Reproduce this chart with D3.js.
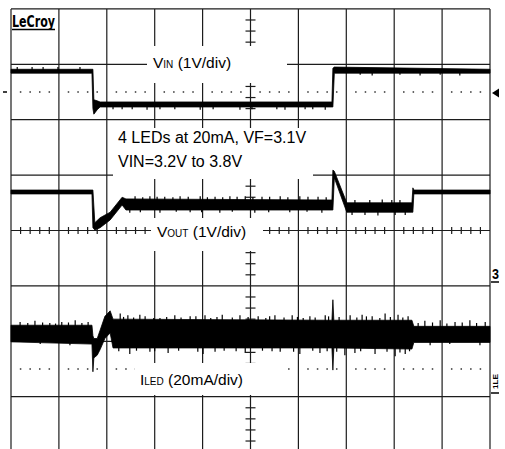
<!DOCTYPE html>
<html>
<head>
<meta charset="utf-8">
<script src="https://cdn.jsdelivr.net/npm/d3@7"></script>
<style>
  html, body { margin: 0; padding: 0; background: #fff; }
  svg { display: block; }
  text { font-family: "Liberation Sans", Arial, Helvetica, sans-serif; fill: #000; }
</style>
</head>
<body>
<svg id="scope" width="505" height="449"></svg>
<script>
// 示波器屏幕：横 10 格，纵 8 格（中心为 0），数据单位均为"格"
const xDivs = d3.range(0, 11);
const yDivs = d3.range(-4, 5);
const markerLevels = [2.5, -2.5];

// VIN 通道（1V/div）上下包络
const vinT   = [0, 1.69, 1.71, 1.73, 1.80, 1.86, 6.70, 6.72, 6.75, 10];
const vinTop = [2.91, 2.91, 2.91, 2.36, 2.34, 2.32, 2.32, 2.93, 2.95, 2.91];
const vinBot = [2.84, 2.84, 2.20, 2.10, 2.18, 2.23, 2.23, 2.23, 2.84, 2.84];
// VIN 噪声尖峰
const vinSpikeT   = [0.13, 0.44, 0.67, 0.98, 1.44, 2.13, 2.32, 2.53, 2.84, 3.11, 3.42, 3.95, 4.22, 4.78, 5.03, 5.55, 5.72, 6.14, 6.30, 6.56, 7.29, 7.54, 8.12, 8.54, 8.96, 9.37];
const vinSpikeTip = [2.95, 2.95, 2.95, 2.95, 2.95, 2.19, 2.19, 2.19, 2.18, 2.19, 2.19, 2.18, 2.19, 2.18, 2.19, 2.19, 2.18, 2.19, 2.19, 2.18, 2.81, 2.80, 2.81, 2.80, 2.81, 2.80];

// VOUT 通道（1V/div）
const voutT   = [0, 1.69, 1.71, 1.75, 1.86, 2.07, 2.32, 2.40, 6.70, 6.72, 6.75, 7.01, 8.37, 8.39, 8.41, 10];
const voutTop = [0.73, 0.73, 0.73, 0.14, 0.23, 0.33, 0.60, 0.57, 0.55, 1.09, 1.07, 0.50, 0.50, 0.77, 0.73, 0.73];
const voutBot = [0.66, 0.66, 0.05, 0.01, 0.05, 0.19, 0.46, 0.37, 0.37, 0.37, 0.95, 0.33, 0.33, 0.33, 0.66, 0.66];
const voutSpikeT   = [2.59, 2.90, 3.21, 3.53, 3.95, 4.26, 4.57, 4.89, 5.24, 5.62, 6.03, 6.41, 2.48, 3.11, 3.74, 4.36, 5.09, 5.82, 6.49, 7.18, 7.49, 7.75, 7.95, 8.12, 7.12, 7.39, 7.66, 8.02, 8.23,
                      2.75, 3.05, 3.38, 3.70, 4.10, 4.42, 4.72, 5.05, 5.40, 5.78, 6.20, 6.58, 2.70, 3.45, 3.98, 4.62, 5.38, 6.18];
const voutSpikeTip = [0.62, 0.62, 0.61, 0.62, 0.62, 0.61, 0.62, 0.62, 0.61, 0.62, 0.62, 0.61, 0.32, 0.32, 0.33, 0.32, 0.32, 0.33, 0.32, 0.55, 0.55, 0.56, 0.55, 0.55, 0.28, 0.28, 0.27, 0.28, 0.28,
                      0.60, 0.61, 0.60, 0.61, 0.60, 0.60, 0.61, 0.60, 0.61, 0.60, 0.61, 0.60, 0.33, 0.34, 0.33, 0.34, 0.33, 0.34];

// ILED 通道（20mA/div）
const iledT   = [0, 1.69, 1.71, 1.73, 1.80, 1.86, 1.96, 2.07, 2.13, 6.70, 6.72, 6.74, 8.37, 8.41, 10];
const iledTop = [-1.71, -1.71, -1.90, -1.95, -1.95, -1.80, -1.55, -1.45, -1.60, -1.62, -1.25, -1.62, -1.62, -1.73, -1.73];
const iledBot = [-2.01, -2.05, -2.55, -2.30, -2.25, -2.15, -1.95, -1.85, -2.12, -2.12, -2.52, -2.12, -2.14, -2.02, -2.02];
const iledSpikeT   = [0.19, 0.50, 0.81, 1.06, 1.34, 1.61, 2.28, 2.44, 2.69, 3.11, 3.42, 3.74, 4.05, 4.41, 4.78, 5.16, 5.51, 5.87, 6.24, 6.56, 7.08, 7.33, 7.54, 7.81, 8.08, 8.29, 8.64, 8.96, 9.27, 9.58, 9.90,
                      0.61, 1.23, 2.48, 2.90, 3.28, 4.01, 4.26, 4.89, 5.62, 6.03, 6.45, 6.97, 7.18, 7.60, 8.02, 8.23, 8.75, 9.16, 9.79,
                      0.35, 0.66, 0.93, 1.20, 1.48, 2.35, 2.56, 2.80, 2.98, 3.25, 3.55, 3.86, 4.17, 4.30, 4.62, 4.95, 5.32, 5.40, 5.70, 5.98, 6.10, 6.35, 6.63, 6.85, 7.22, 7.42, 7.70, 7.92, 8.18, 8.50, 8.80, 9.10, 9.42, 9.72,
                      2.25, 2.62, 3.00, 3.50, 3.90, 4.45, 4.70, 5.25, 5.45, 5.90, 6.30, 6.60, 6.80, 7.30, 7.85, 8.12, 8.32];
const iledSpikeTip = [-1.65, -1.63, -1.67, -1.65, -1.62, -1.65, -1.50, -1.53, -1.52, -1.58, -1.53, -1.55, -1.53, -1.52, -1.53, -1.55, -1.53, -1.53, -1.55, -1.53, -1.53, -1.52, -1.55, -1.50, -1.52, -1.55, -1.63, -1.62, -1.65, -1.62, -1.65,
                      -2.05, -2.07, -2.23, -2.19, -2.21, -2.23, -2.19, -2.21, -2.19, -2.23, -2.21, -2.25, -2.21, -2.23, -2.27, -2.23, -2.07, -2.05, -2.07,
                      -1.67, -1.66, -1.68, -1.66, -1.67, -1.56, -1.57, -1.55, -1.58, -1.56, -1.57, -1.55, -1.58, -1.56, -1.57, -1.56, -1.58, -1.55, -1.57, -1.56, -1.58, -1.57, -1.55, -1.56, -1.57, -1.55, -1.58, -1.56, -1.57, -1.67, -1.66, -1.68, -1.66, -1.67,
                      -2.18, -2.17, -2.18, -2.17, -2.19, -2.17, -2.18, -2.17, -2.18, -2.19, -2.17, -2.18, -2.19, -2.18, -2.19, -2.20, -2.18];

const svg = d3.select('#scope');
const x = d3.scaleLinear().domain([0, 10]).range([11, 490]);
const y = d3.scaleLinear().domain([-4, 4]).range([452.1, 8.9]);

const gridColor = '#1c1c1c';
const minor = d3.range(0, 50).map(i => i / 5).filter(v => v % 1 !== 0);
const minorY = d3.range(-20, 21).map(i => i / 5).filter(v => v % 1 !== 0);

// 网格
const grid = svg.append('g').attr('class', 'grid');
grid.selectAll('line.v').data(xDivs).join('line')
  .attr('class', 'v')
  .attr('x1', d => x(d)).attr('x2', d => x(d))
  .attr('y1', y(4)).attr('y2', y(-4))
  .attr('stroke', gridColor).attr('stroke-width', 1.2);
grid.selectAll('line.h').data(yDivs).join('line')
  .attr('class', 'h')
  .attr('x1', x(0)).attr('x2', x(10))
  .attr('y1', d => y(d)).attr('y2', d => y(d))
  .attr('stroke', gridColor).attr('stroke-width', 1.2);

// 中心轴刻度
grid.selectAll('line.tx').data(minor).join('line')
  .attr('class', 'tx')
  .attr('x1', d => x(d)).attr('x2', d => x(d))
  .attr('y1', y(0) - 3.5).attr('y2', y(0) + 3.5)
  .attr('stroke', gridColor).attr('stroke-width', 1.2);
grid.selectAll('line.ty').data(minorY).join('line')
  .attr('class', 'ty')
  .attr('x1', x(5) - 5).attr('x2', x(5) + 5)
  .attr('y1', d => y(d)).attr('y2', d => y(d))
  .attr('stroke', gridColor).attr('stroke-width', 1.2);

// 点状参考线
markerLevels.forEach(lv => {
  grid.selectAll(null).data(minor).join('rect')
    .attr('x', d => x(d) - 0.75).attr('y', y(lv) - 0.75)
    .attr('width', 1.5).attr('height', 1.5)
    .attr('fill', '#333');
});

// 左侧小横线、右侧触发箭头
svg.append('line')
  .attr('x1', 3).attr('x2', 7).attr('y1', y(2.5)).attr('y2', y(2.5))
  .attr('stroke', '#000').attr('stroke-width', 1.5);
svg.append('path')
  .attr('d', `M${x(10) + 2},${y(2.5) + 1} L${x(10) + 9},${y(2.5) - 3.5} L${x(10) + 9},${y(2.5) + 5.5} Z`)
  .attr('fill', '#000');

// 标注白底框
const boxes = [
  [147, 46, 140, 37],
  [113, 128, 200, 51],
  [151, 218, 112, 33],
  [135, 363, 150, 32]
];
svg.selectAll('rect.box').data(boxes).join('rect')
  .attr('class', 'box')
  .attr('x', d => d[0]).attr('y', d => d[1])
  .attr('width', d => d[2]).attr('height', d => d[3])
  .attr('fill', '#fff');

// 波形
function drawTrace(T, top, bot, spikeT, spikeTip) {
  const pts = T.map((t, i) => ({ t, top: top[i], bot: bot[i] }));
  const area = d3.area()
    .x(d => x(d.t))
    .y0(d => y(d.bot))
    .y1(d => y(d.top));
  svg.append('path').datum(pts)
    .attr('d', area)
    .attr('fill', '#000')
    .attr('stroke', '#000')
    .attr('stroke-width', 0.8);

  const mid = t => {
    const i = Math.max(0, Math.min(T.length - 2, d3.bisectRight(T, t) - 1));
    const f = (t - T[i]) / (T[i + 1] - T[i]);
    const a = (top[i] + bot[i]) / 2, b = (top[i + 1] + bot[i + 1]) / 2;
    return a + (b - a) * f;
  };
  svg.append('g').selectAll('line').data(spikeT).join('line')
    .attr('x1', d => x(d)).attr('x2', d => x(d))
    .attr('y1', d => y(mid(d)))
    .attr('y2', (d, i) => y(spikeTip[i]))
    .attr('stroke', '#000').attr('stroke-width', 1.2);
}
drawTrace(vinT, vinTop, vinBot, vinSpikeT, vinSpikeTip);
drawTrace(voutT, voutTop, voutBot, voutSpikeT, voutSpikeTip);
drawTrace(iledT, iledTop, iledBot, iledSpikeT, iledSpikeTip);

// 文字
const lab = svg.append('g').attr('font-size', 15.5);
function subLabel(px, py, main, sub, rest) {
  const t = lab.append('text').attr('x', px).attr('y', py);
  t.append('tspan').text(main);
  t.append('tspan').attr('font-size', 10).text(sub);
  t.append('tspan').text(rest);
}
subLabel(153, 68, 'V', 'IN', ' (1V/div)');
subLabel(157, 237, 'V', 'OUT', ' (1V/div)');
subLabel(140, 385, 'I', 'LED', ' (20mA/div)');

lab.append('text').attr('x', 118).attr('y', 143).attr('font-size', 16)
  .text('4 LEDs at 20mA, VF=3.1V');
lab.append('text').attr('x', 118).attr('y', 167).attr('font-size', 16)
  .text('VIN=3.2V to 3.8V');

// LeCroy 标志
svg.append('text')
  .attr('x', 12).attr('y', 27)
  .attr('font-size', 15).attr('font-weight', 'bold')
  .style('font-family', '"Liberation Sans Narrow", "DejaVu Sans Condensed", sans-serif')
  .attr('textLength', 43).attr('lengthAdjust', 'spacingAndGlyphs')
  .text('LeCroy');
svg.append('line').attr('x1', 12).attr('x2', 55).attr('y1', 29.5).attr('y2', 29.5)
  .attr('stroke', '#000').attr('stroke-width', 1.5);

// 右侧通道标记
svg.append('text')
  .attr('x', 492).attr('y', 279)
  .attr('font-size', 14).attr('font-weight', 'bold')
  .attr('textLength', 7).attr('lengthAdjust', 'spacingAndGlyphs')
  .text('3');
svg.append('line').attr('x1', 491).attr('x2', 499).attr('y1', 282).attr('y2', 282)
  .attr('stroke', '#000').attr('stroke-width', 1.5);
svg.append('text')
  .attr('transform', 'translate(498,389) rotate(-90)')
  .attr('font-size', 8).attr('font-weight', 'bold')
  .attr('textLength', 15).attr('lengthAdjust', 'spacingAndGlyphs')
  .text('1LE');
svg.append('line').attr('x1', 491).attr('x2', 499).attr('y1', 393).attr('y2', 393)
  .attr('stroke', '#000').attr('stroke-width', 1.5);
</script>
</body>
</html>
